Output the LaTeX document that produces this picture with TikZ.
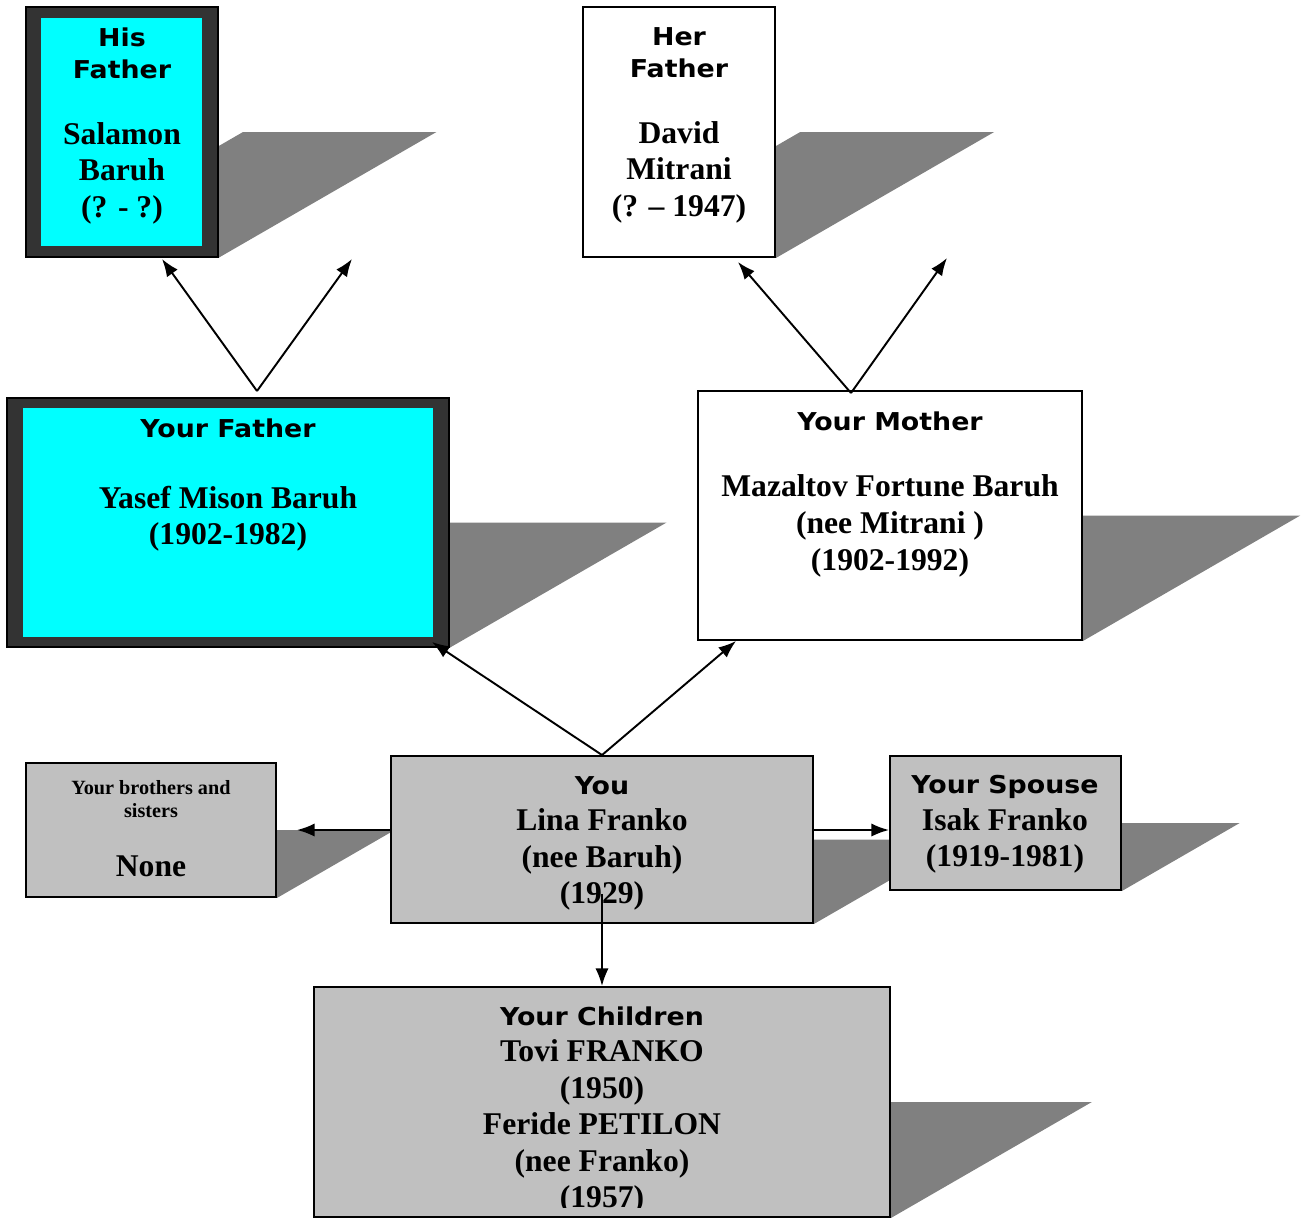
\documentclass[tikz,border=0pt]{standalone}
\usepackage{fontspec}
\setmainfont{Liberation Serif}
\newfontfamily\labfont{DejaVu Sans}[FakeStretch=1.09]
\usetikzlibrary{arrows.meta,calc,fit,backgrounds}
\definecolor{boxgray}{HTML}{C0C0C0}
\definecolor{framegray}{HTML}{333333}
\definecolor{shadegray}{HTML}{808080}
\definecolor{brightcyan}{RGB}{0,255,255}
\newcommand{\lab}[1]{{\labfont\bfseries\fontsize{14}{18}\selectfont #1}}
\newcommand{\dropshade}[1]{\fill[shadegray] (#1.south west) -- (#1.south east)
  -- ($(#1.south east)!1!-60:(#1.north east)$) -- ($(#1.south west)!1!-60:(#1.north west)$) -- cycle;}

\begin{document}
\begin{tikzpicture}
  [x=0.02cm, y=-0.02cm,
   box/.style={draw, line width=1.1pt, inner sep=0pt},
   frame/.style={draw, line width=0.8pt, fill=framegray, inner sep=0pt},
   inner/.style={fill=brightcyan, inner sep=0pt},
   txt/.style={anchor=north, align=center, inner sep=0pt,
     font=\bfseries\fontsize{18}{20.8}\selectfont},
   arr/.style={line width=1.1pt, -{Latex[length=10pt,width=7.5pt]}},
  ]
  \useasboundingbox (0,0) rectangle (1305,1218);

  % grandparents
  \node[frame, fit={(26,7) (218,257)}] (hisf) {};
  \node[inner, fit={(41,18) (202,246)}] (hisf-in) {};
  \node[box, fill=white, fit={(583,7) (775,257)}] (herf) {};

  % parents
  \node[frame, fit={(7,398) (449,647)}] (yfath) {};
  \node[inner, fit={(23,408) (433,637)}] (yfath-in) {};
  \node[box, fill=white, fit={(698,391) (1082,640)}] (ymoth) {};

  % you, siblings, spouse, children
  \node[box, fill=boxgray, fit={(26,763) (276,897)}] (sibs) {};
  \node[box, fill=boxgray, fit={(391,756) (813,923)}] (you) {};
  \node[box, fill=boxgray, fit={(890,756) (1121,890)}] (spouse) {};
  \node[box, fill=boxgray, fit={(314,987) (890,1217)}] (kids) {};

  \begin{scope}[on background layer]
    \foreach \b in {hisf,herf,yfath,ymoth,sibs,you,spouse,kids} {\dropshade{\b}}
  \end{scope}

  % texts
  \node[txt] (hisf-t) at (122,27) {\lab{His}\\[-2.6pt]\lab{Father}\\[16.8pt]Salamon\\Baruh\\(? - ?)};
  \node[txt] (herf-t) at (679,27) {\lab{Her}\\[-2.6pt]\lab{Father}\\[16.8pt]David\\Mitrani\\(? -- 1947)};
  \node[txt] (yfath-t) at (228,418) {\lab{Your Father}\\[19.6pt]Yasef Mison Baruh\\(1902-1982)};
  \node[txt] (ymoth-t) at (890,411) {\lab{Your Mother}\\[17.3pt]Mazaltov Fortune Baruh\\(nee Mitrani )\\(1902-1992)};
  \node[txt, font=\bfseries\fontsize{11.5}{13.1}\selectfont] (sibs-t) at (151,780)
    {Your brothers and\\sisters\\[20.5pt]{\fontsize{18}{20}\selectfont None}};
  \node[txt] (you-t) at (602,776) {\lab{You}\\Lina Franko\\(nee Baruh)\\(1929)};
  \node[txt] (spouse-t) at (1005,775) {\lab{Your Spouse}\\Isak Franko\\(1919-1981)};
  \begin{scope}
    \clip (kids.north west) rectangle ([yshift=0.2cm]kids.south east);
    \node[txt] (kids-t) at (602,1006) {\lab{Your Children}\\Tovi FRANKO\\(1950)\\Feride PETILON\\(nee Franko)\\(1957)};
  \end{scope}

  % arrows
  \coordinate (fa-top) at (257,391);
  \coordinate (hisf-tip) at (162,259);
  \coordinate (hism-tip) at (352,259);
  \coordinate (mo-top) at (851,393);
  \coordinate (herf-tip) at (738,262);
  \coordinate (herm-tip) at (947,258);
  \coordinate (yfath-tip) at (432,642);
  \coordinate (ymoth-tip) at (736,641);
  \draw[arr] (fa-top) -- (hisf-tip);
  \draw[arr] (fa-top) -- (hism-tip);
  \draw[arr] (mo-top) -- (herf-tip);
  \draw[arr] (mo-top) -- (herm-tip);
  \draw[arr] (you.north) -- (yfath-tip);
  \draw[arr] (you.north) -- (ymoth-tip);
  \draw[arr, shorten >=0.4cm] (you.west |- sibs.east) -- (sibs.east);
  \draw[arr] (you.east |- sibs.east) -- (spouse.west |- sibs.east);
  \draw[arr] ([yshift=0.6cm]you.south) -- (kids.north);
\end{tikzpicture}
\end{document}
